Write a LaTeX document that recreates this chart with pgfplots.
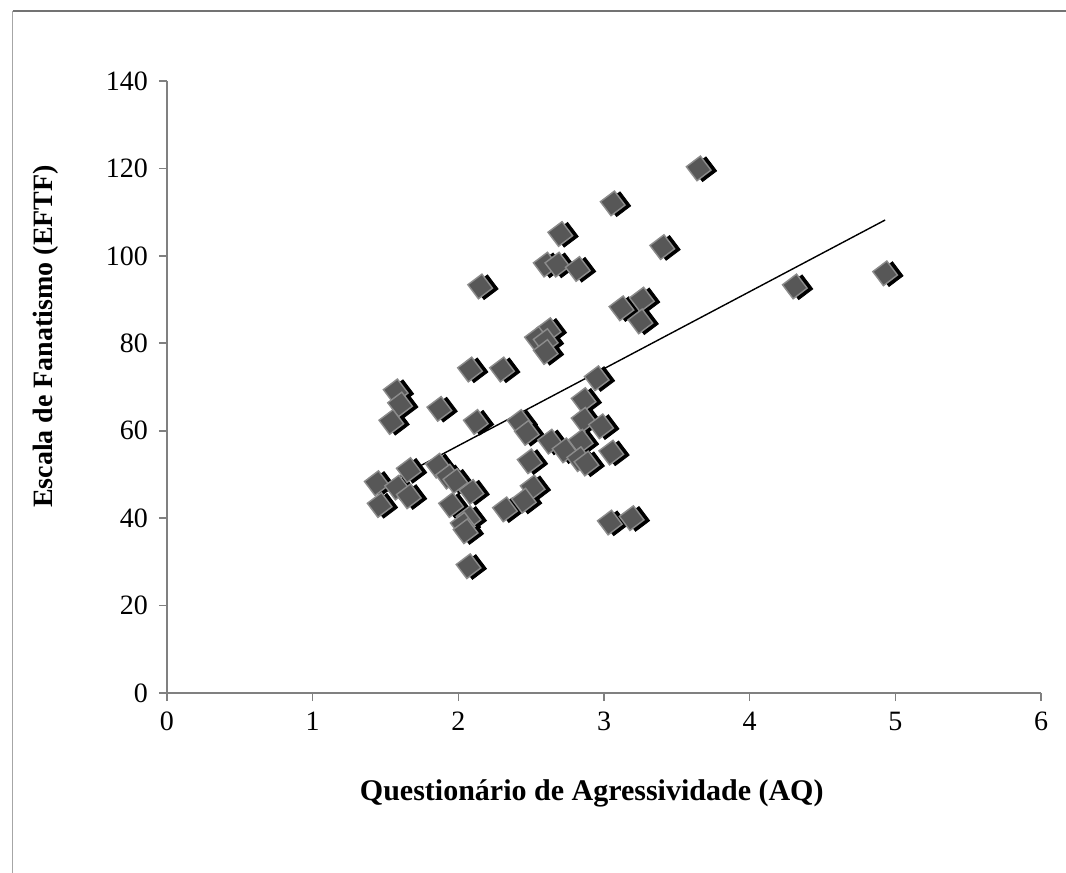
\documentclass[border=0pt]{standalone}
\usepackage{fontspec}
\setmainfont{Liberation Serif}
\usepackage{pgfplots}
\usepackage{pgfplotstable}
\pgfplotsset{compat=1.18}
\pgfplotstableread{
x y
3.65 120
3.06 112
2.70 105
3.40 102
2.60 98
2.68 98
2.82 97
2.15 93
3.12 88
3.26 90
3.25 85
4.31 93
4.93 96
2.62 83
2.54 81
2.60 80.5
2.60 78
2.08 74
2.30 74
2.95 72
2.86 67
1.57 69
1.60 66
1.87 65
1.54 62
2.12 62
2.42 62
2.47 59.5
2.86 62.5
2.98 61
2.63 57.5
2.84 57.5
2.73 55.5
3.05 55
2.83 53.5
2.88 52.5
2.49 53
1.44 48
1.58 47
1.66 51
1.86 52
1.93 49.5
1.98 48.5
1.66 45
2.09 46
2.51 47
2.45 44
1.95 43
1.46 43
2.32 42
2.07 40
2.03 38.5
2.05 37
3.04 39
3.19 40
2.07 29
}\pts
\begin{document}
\begin{tikzpicture}
\path[use as bounding box] (0,0) rectangle (533pt,436.5pt);
\draw[black!35, line width=0.8pt] (6.25pt,0) -- (6.25pt,430.75pt);
\draw[black!55, line width=1pt] (6.25pt,430.75pt) -- (533pt,430.75pt);
\begin{axis}[
  at={(83.5pt,90pt)}, anchor=south west,
  scale only axis, width=437pt, height=306pt,
  xmin=0, xmax=6, ymin=0, ymax=140,
  xtick={0,1,...,6}, ytick={0,20,...,140},
  axis lines=left, axis line style={black!50, line width=0.8pt, -},
  tick style={black!50, line width=0.8pt},
  tick align=outside, major tick length=4pt,
  every tick label/.style={font=\fontsize{14}{16}\selectfont},
  /pgf/number format/assume math mode=true,
  xticklabel style={yshift=-2pt},
  yticklabel style={xshift=-2pt},
  xlabel={Questionário de Agressividade (AQ)},
  ylabel={Escala de Fanatismo (EFTF)},
  xlabel style={font=\bfseries\fontsize{15}{18}\selectfont, at={(axis description cs:0.486,-0.1634)}, anchor=center},
  ylabel style={font=\bfseries\fontsize{14}{17}\selectfont, at={(axis description cs:-0.1385,0.5825)}, anchor=center},
  clip=false,
]
\addplot[only marks, mark=square*, mark size=4.4pt,
  mark options={rotate=37, fill=black, draw=black, xshift=2pt, yshift=-2pt}] table {\pts};
\addplot[only marks, mark=square*, mark size=4.4pt,
  mark options={rotate=37, fill=black!66, draw=black!45, line width=0.7pt}] table {\pts};
\addplot[black, line width=0.7pt, no marks] coordinates {(1.44,46.7) (4.93,108.2)};
\end{axis}
\end{tikzpicture}
\end{document}
